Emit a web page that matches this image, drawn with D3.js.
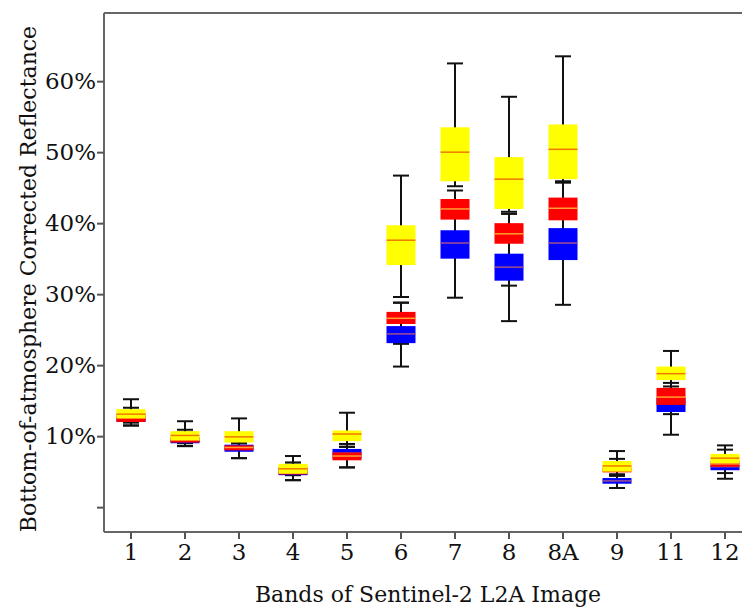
<!DOCTYPE html>
<html lang="en">
<head>
  <meta charset="UTF-8">
  <style>
    body { margin: 0; background: #fff; }
    text { font-family: "DejaVu Serif", serif; fill: #111; }
    .tick-label { font-size: 23px; }
    .axis-title { font-size: 22px; }
  </style>
  <script src="https://d3js.org/d3.v7.min.js"></script>
</head>
<body>
  <svg width="742" height="608" id="chart"></svg>

  <script>
    // band names on the x axis
    const bands = ["1", "2", "3", "4", "5", "6", "7", "8", "8A", "9", "11", "12"];

    // five-number summaries [min, q1, median, q3, max] in %, one array per class
    const yellowStats = [
      [11.9, 12.5, 13.1, 13.8, 15.2],
      [9.0, 9.4, 10.1, 10.7, 12.1],
      [9.0, 9.1, 9.9, 10.7, 12.5],
      [4.5, 4.7, 5.4, 6.1, 7.2],
      [8.5, 9.3, 10.3, 10.8, 13.3],
      [29.6, 34.1, 37.6, 39.7, 46.7],
      [45.2, 45.9, 50.0, 53.5, 62.5],
      [41.6, 42.0, 46.2, 49.3, 57.8],
      [45.9, 46.2, 50.4, 53.9, 63.5],
      [4.6, 5.0, 5.8, 6.5, 7.9],
      [17.5, 17.9, 18.8, 19.8, 22.0],
      [5.8, 6.2, 6.9, 7.5, 8.7]
    ];
    const redStats = [
      [11.5, 12.0, 12.6, 13.2, 14.0],
      [8.6, 9.1, 9.5, 9.9, 10.9],
      [6.9, 8.0, 8.4, 8.7, 9.0],
      [3.8, 4.6, 5.1, 5.7, 6.3],
      [5.6, 6.6, 7.2, 7.7, 8.5],
      [23.0, 25.8, 26.6, 27.5, 28.8],
      [36.0, 40.5, 42.0, 43.4, 44.6],
      [31.2, 37.1, 38.5, 40.0, 41.3],
      [36.0, 40.4, 42.1, 43.6, 45.7],
      [4.4, 4.9, 5.2, 5.6, 6.8],
      [13.1, 14.4, 15.5, 16.8, 19.0],
      [4.8, 5.7, 6.1, 6.5, 8.1]
    ];
    const blueStats = [
      [11.5, 12.0, 12.3, 12.8, 13.5],
      [8.6, 9.0, 9.3, 9.7, 10.5],
      [6.9, 7.8, 8.3, 8.8, 9.5],
      [3.8, 4.5, 4.9, 5.4, 6.0],
      [5.6, 6.9, 7.6, 8.2, 8.9],
      [19.8, 23.1, 24.4, 25.5, 28.8],
      [29.5, 35.0, 37.2, 39.0, 42.0],
      [26.2, 31.9, 33.8, 35.7, 38.0],
      [28.5, 34.8, 37.2, 39.3, 42.0],
      [2.7, 3.3, 3.7, 4.1, 4.6],
      [10.2, 13.4, 14.8, 15.4, 17.0],
      [4.0, 5.2, 5.7, 5.9, 7.0]
    ];

    const yTicks = [0, 10, 20, 30, 40, 50, 60];

    // drawing order: blue underneath, yellow on top
    const series = [
      { stats: blueStats, fill: "#0000ff", median: "#a0508c" },
      { stats: redStats, fill: "#ff0000", median: "#ffa030" },
      { stats: yellowStats, fill: "#ffff00", median: "#f07800" }
    ];

    const svg = d3.select("#chart");
    const plotLeft = 104, plotTop = 13, plotBottom = 532;

    const x = d3.scaleBand().domain(bands).range([plotLeft, plotLeft + 54 * bands.length]);
    const y = d3.scaleLinear().domain([-3.5, 69.6]).range([plotBottom, plotTop]);

    const boxW = 29, capW = 16;
    const cx = b => x(b) + x.bandwidth() / 2;

    // whiskers first, boxes over them
    const plot = svg.append("g");
    series.forEach(s => {
      const g = plot.append("g").selectAll("g").data(bands).enter().append("g");
      g.append("line")
        .attr("x1", cx).attr("x2", cx)
        .attr("y1", (b, i) => y(s.stats[i][0]))
        .attr("y2", (b, i) => y(s.stats[i][4]))
        .attr("stroke", "#111").attr("stroke-width", 2);
      [0, 4].forEach(k => {
        g.append("line")
          .attr("x1", b => cx(b) - capW / 2).attr("x2", b => cx(b) + capW / 2)
          .attr("y1", (b, i) => y(s.stats[i][k]))
          .attr("y2", (b, i) => y(s.stats[i][k]))
          .attr("stroke", "#111").attr("stroke-width", 2);
      });
    });
    series.forEach(s => {
      const g = plot.append("g").selectAll("g").data(bands).enter().append("g");
      g.append("rect")
        .attr("x", b => cx(b) - boxW / 2)
        .attr("width", boxW)
        .attr("y", (b, i) => y(s.stats[i][3]))
        .attr("height", (b, i) => y(s.stats[i][1]) - y(s.stats[i][3]))
        .attr("fill", s.fill);
      g.append("line")
        .attr("x1", b => cx(b) - boxW / 2).attr("x2", b => cx(b) + boxW / 2)
        .attr("y1", (b, i) => y(s.stats[i][2]))
        .attr("y2", (b, i) => y(s.stats[i][2]))
        .attr("stroke", s.median).attr("stroke-width", 1.5);
    });

    // frame: top edge (left and bottom come from the axes)
    svg.append("line").attr("x1", plotLeft).attr("x2", 742).attr("y1", plotTop).attr("y2", plotTop)
      .attr("stroke", "#666").attr("stroke-width", 2);

    const yAxis = svg.append("g")
      .attr("transform", `translate(${plotLeft},0)`)
      .call(d3.axisLeft(y).tickValues(yTicks).tickSize(7).tickPadding(1)
        .tickFormat(d => d === 0 ? "" : d + "%"));
    yAxis.select(".domain").attr("d", `M0,${plotTop}V${plotBottom}`).attr("stroke", "#666").attr("stroke-width", 2);
    yAxis.selectAll(".tick line").attr("stroke", "#555").attr("stroke-width", 2);
    yAxis.selectAll(".tick text").attr("class", "tick-label");
    yAxis.attr("font-family", null).attr("font-size", null);

    const xAxis = svg.append("g")
      .attr("transform", `translate(0,${plotBottom})`)
      .call(d3.axisBottom(x).tickSize(7).tickPadding(5));
    xAxis.select(".domain").attr("d", `M${plotLeft},0H742`).attr("stroke", "#666").attr("stroke-width", 2);
    xAxis.selectAll(".tick line").attr("stroke", "#555").attr("stroke-width", 2);
    xAxis.selectAll(".tick text").attr("class", "tick-label");
    xAxis.attr("font-family", null).attr("font-size", null);

    svg.append("text").attr("class", "axis-title")
      .attr("x", 428).attr("y", 602).attr("text-anchor", "middle")
      .text("Bands of Sentinel-2 L2A Image");

    svg.append("text").attr("class", "axis-title")
      .attr("transform", "translate(36,279) rotate(-90)").attr("text-anchor", "middle")
      .text("Bottom-of-atmosphere Corrected Reflectance");
  </script>
</body>
</html>
